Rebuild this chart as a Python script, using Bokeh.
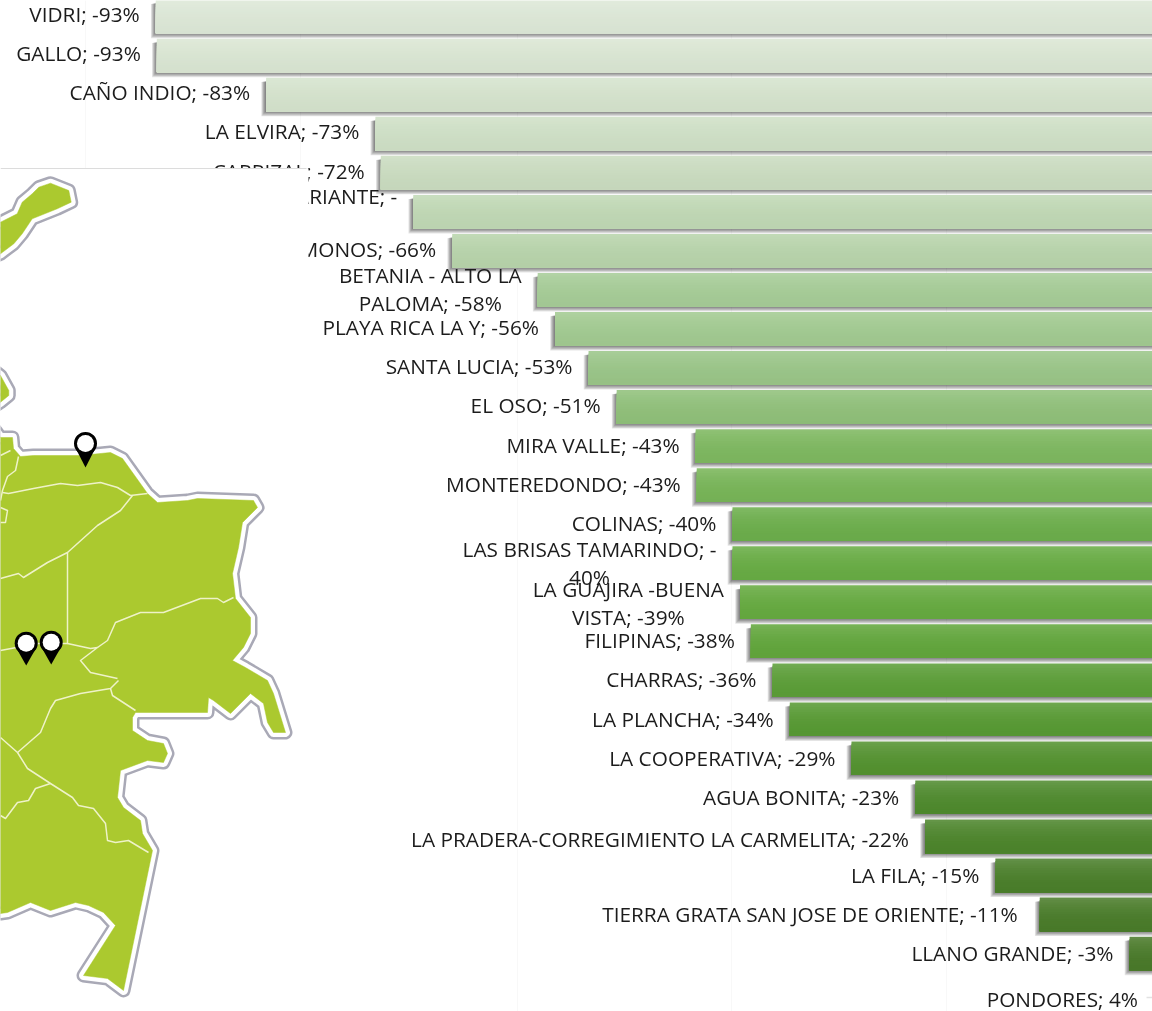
from bokeh.plotting import figure
from bokeh.models import Range1d, ColumnDataSource
from bokeh.core.properties import value
from bokeh.embed import file_html
from bokeh.resources import INLINE

# ---------- chart data ----------
values = [-93.0, -92.9, -82.8, -72.7, -72.2, -69.2, -65.6, -57.7, -56.1, -53.0, -50.4, -43.1, -43.0,
          -39.7, -39.7, -39.0, -38.0, -36.0, -34.4, -28.7, -22.8, -21.9, -15.4, -11.3, -3.0, 4.0]
labels = ["VIDRI; -93%", "GALLO; -93%", "CAÑO INDIO; -83%", "LA ELVIRA; -73%", "CARRIZAL; -72%",
          "VARIANTE; -", "LOS MONOS; -66%", "BETANIA - ALTO LA\nPALOMA; -58%", "PLAYA RICA LA Y; -56%",
          "SANTA LUCIA; -53%", "EL OSO; -51%", "MIRA VALLE; -43%", "MONTEREDONDO; -43%", "COLINAS; -40%",
          "LAS BRISAS TAMARINDO; -\n40%", "LA GUAJIRA -BUENA\nVISTA; -39%", "FILIPINAS; -38%", "CHARRAS; -36%",
          "LA PLANCHA; -34%", "LA COOPERATIVA; -29%", "AGUA BONITA; -23%",
          "LA PRADERA-CORREGIMIENTO LA CARMELITA; -22%", "LA FILA; -15%",
          "TIERRA GRATA SAN JOSE DE ORIENTE; -11%", "LLANO GRANDE; -3%", "PONDORES; 4%"]
row_colors = ["#dde8d7", "#dae6d3", "#d5e3cd", "#cfe0c6", "#cadcc0", "#c0d8b5", "#b8d4ab", "#a6cc97", "#a2ca91",
              "#9ac588", "#90c07a", "#7eb860", "#78b558", "#6cae4c", "#68ac44", "#66aa40", "#62a63c", "#5c9e38",
              "#589a34", "#549230", "#4f8a2e", "#4d852c", "#4b7f2b", "#4a7c2a", "#4a7a2a", "#4a7a2a"]
grid_values = [-99.5, -79.6, -59.6, -39.8, -19.9]

# ---------- map shapes (page pixels) ----------
map_top = [(-20, 228), (0, 221.7), (16.7, 213.3), (21.7, 201.7), (31.7, 193.3), (38.3, 186.7), (50, 182.7),
           (68.3, 190), (70.7, 201.7), (56.7, 208.3), (31.7, 218.3), (21.7, 233.3), (13.3, 243.3), (0, 253.3),
           (-20, 262)]
map_mid = [(-20, 360), (0, 375), (8.3, 390), (8.3, 395), (0, 401.7), (-20, 415)]
map_main = [(-20, 410), (0, 437), (12, 437), (13, 448), (20, 456), (33, 455), (80, 455), (110, 452), (122, 458),
            (147, 493), (157, 502), (187, 500), (197, 498), (253, 500), (257, 507), (242, 522), (238, 547),
            (232, 573), (235, 598), (250, 617), (250, 633), (243, 647), (232, 660), (245, 667), (267, 680),
            (273, 693), (285, 732), (273, 732), (267, 722), (263, 703), (250, 693), (230, 713), (213, 700),
            (208, 697), (207, 712), (150, 712), (135, 712), (132, 717), (132, 730), (147, 740), (163, 743),
            (167, 753), (163, 762), (147, 760), (120, 770), (117, 797), (123, 807), (140, 820), (142, 833),
            (152, 850), (123, 990), (107, 978), (83, 975), (115, 925), (103, 912), (88, 905), (75, 902),
            (50, 910), (30, 902), (7, 912), (0, 913), (-20, 913)]
map_lines = [
    [(18, 456), (15, 470), (7, 476), (2, 490), (0, 500)],
    [(0, 455), (10, 450)],
    [(2, 492), (8, 493), (33, 488), (60, 483), (77, 485), (100, 482), (117, 487), (130, 495), (147, 493)],
    [(132, 495), (120, 510), (97, 525), (67, 552), (47, 562), (23, 577), (18, 573), (0, 578)],
    [(67, 552), (67, 643), (90, 648), (97, 647), (80, 660), (90, 672), (117, 678)],
    [(0, 650), (37, 643), (67, 643)],
    [(97, 647), (107, 640), (115, 622), (140, 612), (163, 612), (200, 598), (217, 598), (223, 602), (233, 597)],
    [(0, 507), (7, 510), (5, 522), (0, 522)],
    [(118, 680), (110, 688), (80, 693), (55, 700), (50, 708), (40, 732), (17, 752)],
    [(110, 688), (112, 695), (135, 710)],
    [(0, 737), (17, 752), (27, 768), (50, 783), (72, 797), (78, 805), (93, 808), (105, 823), (107, 840),
     (115, 842), (128, 840), (148, 852)],
    [(50, 783), (35, 788), (28, 800), (17, 802), (5, 818), (0, 815)],
]
pin_x = [85, 25.7, 50.7]
pin_y = [443, 642.7, 641.7]
pin_tip_y = [467, 665, 664]

# ---------- scales: x in percent, y in category rows, extra ranges in page pixels ----------
PX_PER_PCT, ZERO_PX = 10.82, 1161.5
ROW_PX, ROW0_PX = 39.04, 16.0
BAR_H = 33.6 / ROW_PX

p = figure(width=1152, height=1011, output_backend="svg", toolbar_location=None,
           x_range=Range1d(-ZERO_PX / PX_PER_PCT, (1152 - ZERO_PX) / PX_PER_PCT),
           y_range=Range1d((1011 - ROW0_PX) / ROW_PX, -ROW0_PX / ROW_PX),
           min_border=0, outline_line_color=None, background_fill_color="white",
           styles={"position": "fixed", "left": "0px", "top": "0px"})
p.extra_x_ranges = {"px": Range1d(0, 1152)}
p.extra_y_ranges = {"px": Range1d(1011, 0)}
p.axis.visible = False
p.grid.visible = False
PX = dict(x_range_name="px", y_range_name="px")

p.vspan(x=grid_values, line_color="#f8f8f8", line_width=1)

rows = list(range(len(values)))
lefts = [min(v, 0) for v in values]
rights = [max(v, 0) for v in values]

# soft shadows
for k in range(1, 7):
    p.quad(left=[l - k * 0.8 / PX_PER_PCT for l in lefts], right=rights,
           top=[r - BAR_H / 2 + (3 + k * 0.2) / ROW_PX for r in rows],
           bottom=[r + BAR_H / 2 + (k * 0.9 - 0.5) / ROW_PX for r in rows],
           fill_color="#000000", fill_alpha=0.105, line_color=None)


def rgb(h):
    return [int(h[i:i + 2], 16) for i in (1, 3, 5)]


# vertical gradient on every bar, drawn as overlapping slices
N = 14
sl, sr, st, sb, sc = [], [], [], [], []
for r, (l, rr, c) in enumerate(zip(lefts, rights, row_colors)):
    base = rgb(c)
    for j in range(N):
        t = j / (N - 1)
        light = 0.13 * (1 - t) ** 2.2
        dark = 0.025 * t
        col = [int(round(b * (1 - light) * (1 - dark) + 255 * light)) for b in base]
        sl.append(l)
        sr.append(rr)
        st.append(r - BAR_H / 2 + t * BAR_H * (N - 1) / N)
        sb.append(r + BAR_H / 2)
        sc.append("#%02x%02x%02x" % tuple(col))
p.quad(left=sl, right=sr, top=st, bottom=sb, fill_color=sc, line_color=None)

# labels
x_pos, y_off, x_off = [], [], []
for r, (v, lab) in enumerate(zip(values, labels)):
    x_pos.append(min(v, 0))
    x_off.append(-24 if v > 0 else (-22 if r == 23 else -16))
    drift = -2.5 + 0.1 * r
    if v > 0:
        y_off.append(6 + drift)
    elif lab == "VARIANTE; -":
        y_off.append(-14 + drift)
    elif r == 15:
        y_off.append(2 + drift)
    elif r == 21:
        y_off.append(3 + drift)
    else:
        y_off.append((1 if "\n" in lab else 0) + drift)
src = ColumnDataSource(dict(x=x_pos, y=rows, t=labels, xo=x_off, yo=y_off))
p.text(x="x", y="y", text="t", x_offset="xo", y_offset="yo", source=src,
       text_font=value("Open Sans"), text_font_size="20.8px", text_color="#1c1c1c",
       text_align="center", text_baseline="middle", anchor="center_right", text_line_height=1.02)

# backdrop sheet with the map, lying over the labels
p.quad(left=[-5], right=[308], top=[168], bottom=[1020], fill_color="white", line_color=None, **PX)
p.segment(x0=[0], x1=[306], y0=[168], y1=[168], line_color="#dcdcdc", line_width=1, **PX)

shapes = [map_top, map_mid, map_main]
xs = [[a for a, _ in s] for s in shapes]
ys = [[b for _, b in s] for s in shapes]
p.patches(xs, ys, fill_color="#a9a9b6", line_color="#a9a9b6", line_width=14, line_join="round", **PX)
p.patches(xs, ys, fill_color="white", line_color="white", line_width=9, line_join="round", **PX)
p.patches(xs, ys, fill_color="#abc92f", line_color="#abc92f", line_width=0.5, **PX)
p.multi_line([[a for a, _ in s] for s in map_lines], [[b for _, b in s] for s in map_lines],
             line_color="#eef2c8", line_width=1.5, line_join="round", **PX)

# pins
p.patches([[x - 9.5, x + 9.5, x] for x in pin_x],
          [[y + 5.5, y + 5.5, t] for y, t in zip(pin_y, pin_tip_y)],
          fill_color="black", line_color=None, **PX)
p.scatter(pin_x, pin_y, size=23, fill_color="black", line_color=None, **PX)
p.scatter(pin_x, pin_y, size=17, fill_color="white", line_color=None, **PX)

p.segment(x0=[1146], x1=[1152], y0=[997], y1=[997], line_color="#e2e2e2", line_width=1.5, **PX)

open("out.html", "w").write(file_html(p, INLINE))
